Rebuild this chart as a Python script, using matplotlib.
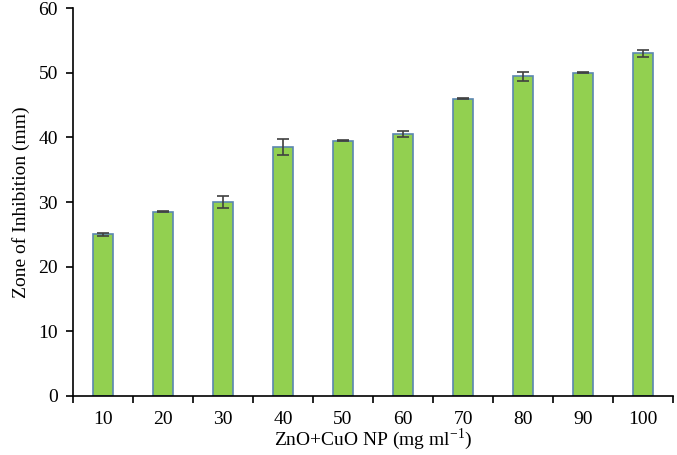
import matplotlib
matplotlib.use("Agg")
import matplotlib.pyplot as plt
import numpy as np

# concentration (mg/ml) vs zone of inhibition (mm)
concentrations = ["10", "20", "30", "40", "50", "60", "70", "80", "90", "100"]
zone_mm = [25.0, 28.5, 30.0, 38.5, 39.5, 40.5, 46.0, 49.5, 50.0, 53.0]
zone_err = [0.2, 0.1, 1.0, 1.2, 0.05, 0.5, 0.05, 0.7, 0.05, 0.6]

plt.rcParams['font.family'] = ['Liberation Serif', 'DejaVu Serif']

fig = plt.figure(figsize=(6.77, 4.55), dpi=100)
ax = fig.add_axes([0.108, 0.130, 0.886, 0.852])

x = np.arange(len(concentrations))
ax.bar(x, zone_mm, width=0.33, color='#92D050', edgecolor='#5B86B0', linewidth=1.2,
       yerr=zone_err, capsize=4,
       error_kw=dict(ecolor='#404040', elinewidth=1.2, capthick=1.2))

ax.set_xlim(-0.5, len(concentrations) - 0.5)
ax.set_ylim(0, 60)
ax.set_yticks(range(0, 61, 10))
ax.set_xticks(x)
ax.set_xticklabels(concentrations)
# ticks sit between categories, labels centred under bars
ax.set_xticks(np.arange(-0.5, len(concentrations)), minor=True)
ax.tick_params(axis='x', which='major', length=0, pad=11, labelsize=14)
ax.tick_params(axis='x', which='minor', length=5, direction='out', width=1.2)
ax.tick_params(axis='y', length=5, width=1.2, labelsize=14, pad=6)

for side in ['top', 'right']:
    ax.spines[side].set_visible(False)
for side in ['left', 'bottom']:
    ax.spines[side].set_linewidth(1.2)

ax.set_xlabel('ZnO+CuO NP (mg ml$^{\\mathregular{-1}}$)', fontsize=14, labelpad=-1)
ax.set_ylabel('Zone of Inhibition (mm)', fontsize=14, labelpad=6)

fig.savefig('out.png', dpi=100)
